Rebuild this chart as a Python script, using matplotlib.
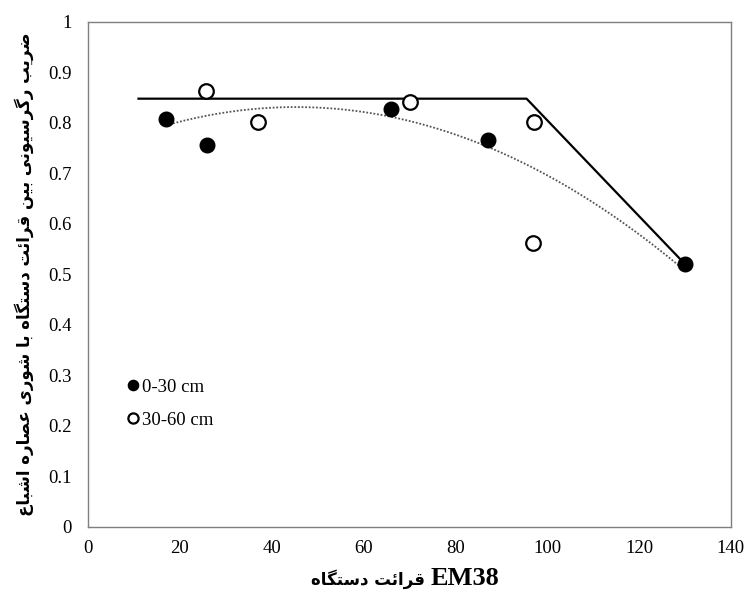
import numpy as np
import matplotlib
matplotlib.use("Agg")
import matplotlib.pyplot as plt

# ---------------- data ----------------
depth_0_30_x = [17, 26, 66, 87, 130]
depth_0_30_y = [0.807, 0.756, 0.828, 0.767, 0.520]
depth_30_60_x = [25.6, 37, 70.2, 97.2, 97.0]
depth_30_60_y = [0.864, 0.802, 0.841, 0.801, 0.561]
threshold_x = [11, 95.5, 130]
threshold_y = [0.848, 0.848, 0.520]
legend_labels = ["0-30 cm", "30-60 cm"]
x_ticks = [0, 20, 40, 60, 80, 100, 120, 140]
y_ticks = [0, 0.1, 0.2, 0.3, 0.4, 0.5, 0.6, 0.7, 0.8, 0.9, 1]
y_tick_labels = ["0", "0.1", "0.2", "0.3", "0.4", "0.5", "0.6", "0.7", "0.8", "0.9", "1"]
x_label_fa = "قرائت دستگاه"
x_label_en = "EM38"
y_label_fa = "ضریب رگرسیونی بین قرائت دستگاه با شوری عصاره اشباع"

# ---------------- minimal Arabic/Persian shaping ----------------
FORMS = {
    "\u0627": ("\uFE8D", "\uFE8E", None, None),        # alef
    "\u0628": ("\uFE8F", "\uFE90", "\uFE91", "\uFE92"),  # beh
    "\u062A": ("\uFE95", "\uFE96", "\uFE97", "\uFE98"),  # teh
    "\u062F": ("\uFEA9", "\uFEAA", None, None),        # dal
    "\u0631": ("\uFEAD", "\uFEAE", None, None),        # reh
    "\u0633": ("\uFEB1", "\uFEB2", "\uFEB3", "\uFEB4"),  # seen
    "\u0634": ("\uFEB5", "\uFEB6", "\uFEB7", "\uFEB8"),  # sheen
    "\u0635": ("\uFEB9", "\uFEBA", "\uFEBB", "\uFEBC"),  # sad
    "\u0636": ("\uFEBD", "\uFEBE", "\uFEBF", "\uFEC0"),  # dad
    "\u0639": ("\uFEC9", "\uFECA", "\uFECB", "\uFECC"),  # ain
    "\u0642": ("\uFED5", "\uFED6", "\uFED7", "\uFED8"),  # qaf
    "\u0646": ("\uFEE5", "\uFEE6", "\uFEE7", "\uFEE8"),  # noon
    "\u0647": ("\uFEE9", "\uFEEA", "\uFEEB", "\uFEEC"),  # heh
    "\u0648": ("\uFEED", "\uFEEE", None, None),        # waw
    "\u0626": ("\uFE89", "\uFE8A", "\uFE8B", "\uFE8C"),  # yeh hamza
    "\u06CC": ("\uFBFC", "\uFBFD", "\uFBFE", "\uFBFF"),  # farsi yeh
    "\u06AF": ("\uFB92", "\uFB93", "\uFB94", "\uFB95"),  # gaf
    "\u06A9": ("\uFB8E", "\uFB8F", "\uFB90", "\uFB91"),  # keheh
}


def shape_rtl(text):
    out = []
    n = len(text)
    for i, c in enumerate(text):
        if c not in FORMS:
            out.append(c)
            continue
        iso, fin, ini, med = FORMS[c]
        prev = text[i - 1] if i > 0 else ""
        nxt = text[i + 1] if i < n - 1 else ""
        pj = prev in FORMS and FORMS[prev][2] is not None
        nj = (nxt in FORMS) and ini is not None
        if pj and nj:
            out.append(med)
        elif pj:
            out.append(fin)
        elif nj:
            out.append(ini)
        else:
            out.append(iso)
    return "".join(reversed(out))


# ---------------- figure ----------------
plt.rcParams["font.family"] = ["Liberation Serif", "DejaVu Sans"]
fig = plt.figure(figsize=(7.48, 5.99), dpi=100)
ax = fig.add_axes([0.1176, 0.121, 0.8596, 0.8423])

# trend line (2nd order polynomial over all readings)
all_x = depth_0_30_x + depth_30_60_x
all_y = depth_0_30_y + depth_30_60_y
coef = np.polyfit(all_x, all_y, 2)
xx = np.linspace(min(depth_0_30_x), max(depth_0_30_x), 200)
ax.plot(xx, np.polyval(coef, xx), linestyle=(0, (1, 1)), color="#555555",
        lw=1.3, zorder=2)

# threshold line
ax.plot(threshold_x, threshold_y, color="black", lw=1.6, zorder=2)

ax.plot(depth_0_30_x, depth_0_30_y, "o", ms=10.5, color="black",
        label=legend_labels[0], zorder=3)
ax.plot(depth_30_60_x, depth_30_60_y, "o", ms=10.5, mfc="white",
        mec="black", mew=1.6, label=legend_labels[1], zorder=3)

ax.set_xlim(0, 140)
ax.set_ylim(0, 1)
ax.set_xticks(x_ticks)
ax.set_yticks(y_ticks)
ax.set_yticklabels(y_tick_labels)
ax.tick_params(length=0, labelsize=13.5, colors="black")
ax.tick_params(axis="y", pad=12)
ax.tick_params(axis="x", pad=10)
for s in ax.spines.values():
    s.set_color("#7f7f7f")
    s.set_linewidth(1.0)

leg = ax.legend(loc="lower left", bbox_to_anchor=(0.035, 0.16), frameon=False,
                fontsize=13.5, handlelength=0.6, handletextpad=0.2,
                labelspacing=0.85, markerscale=0.7, borderpad=0.4)

# x-axis title: Persian part + EM38
fig.text(425 / 748, 0.023, shape_rtl(x_label_fa), ha="right", va="baseline",
         fontsize=12, fontweight="bold", family=["DejaVu Sans"])
fig.text(431 / 748, 0.023, x_label_en, ha="left", va="baseline",
         fontsize=19, fontweight="bold", family=["Liberation Serif"])

ax.set_ylabel(shape_rtl(y_label_fa), fontsize=12, fontweight="bold",
              family=["DejaVu Sans"], labelpad=10)

fig.savefig("out.png", dpi=100)
